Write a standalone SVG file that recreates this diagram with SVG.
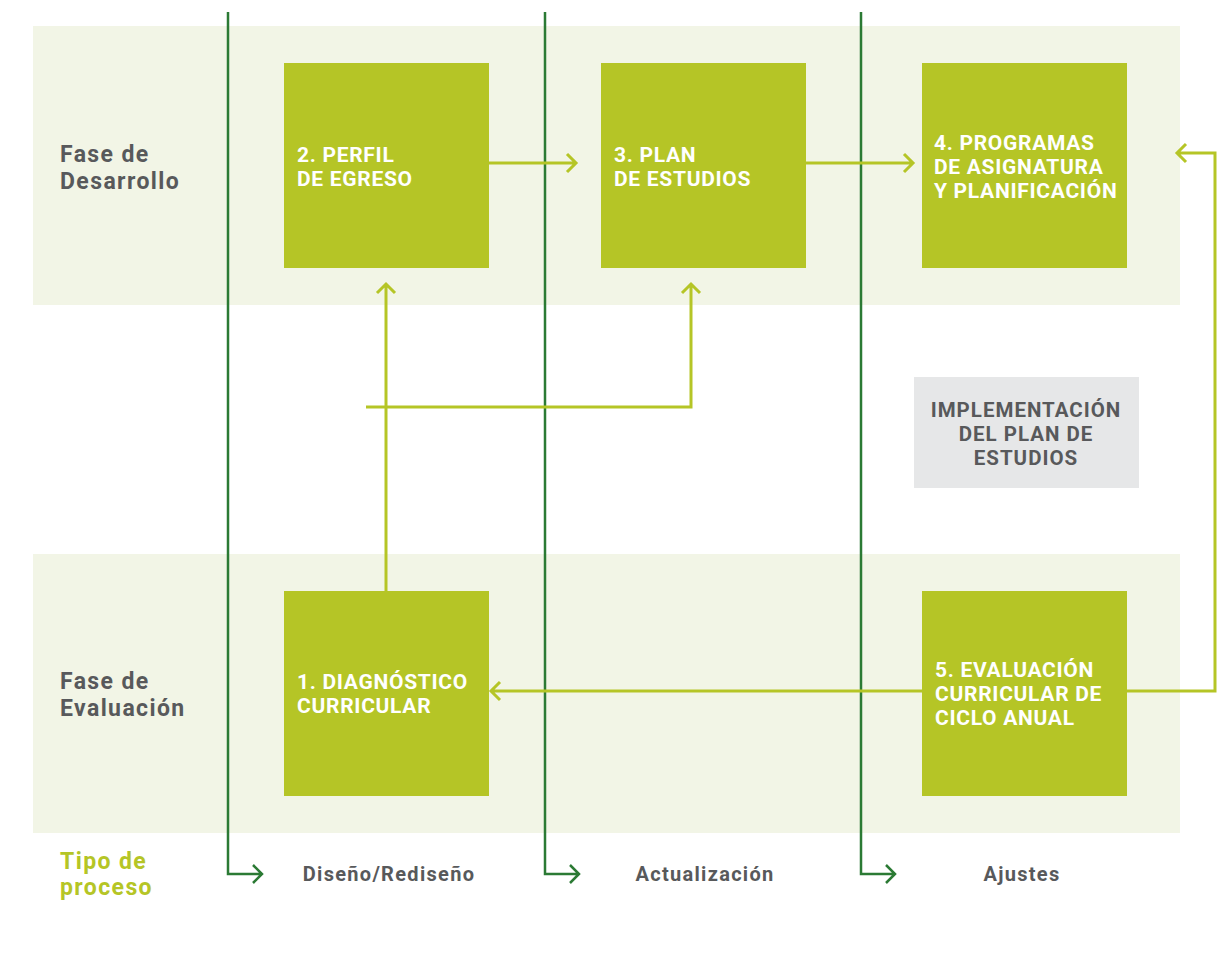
<svg xmlns="http://www.w3.org/2000/svg" width="1227" height="971" viewBox="0 0 1227 971">
<style>
.band{fill:#f2f5e6}
.box{fill:#b5c526}
.bt{font-family:Roboto,"Liberation Sans",sans-serif;font-weight:700;font-size:21px;letter-spacing:0.7px;fill:#ffffff}
.lbl{font-family:Roboto,"Liberation Sans",sans-serif;font-weight:700;font-size:23px;letter-spacing:1.4px;fill:#58595b}
.sm{font-family:Roboto,"Liberation Sans",sans-serif;font-weight:700;font-size:20px;letter-spacing:1.3px;fill:#58595b}
.gb{font-family:Roboto,"Liberation Sans",sans-serif;font-weight:700;font-size:20.5px;letter-spacing:1px;fill:#58595b}
.lime{fill:none;stroke:#b5c526;stroke-width:3}
.dk{fill:none;stroke:#2b7a34;stroke-width:2.5}
</style>
<rect width="1227" height="971" fill="#ffffff"/>
<rect class="band" x="33" y="26" width="1147" height="279"/>
<rect class="band" x="33" y="554" width="1147" height="279"/>
<g id="labels">
<text class="lbl" x="60" y="162">Fase de</text>
<text class="lbl" x="60" y="189">Desarrollo</text>
<text class="lbl" x="60" y="689">Fase de</text>
<text class="lbl" x="60" y="716">Evaluación</text>
<text class="lbl" x="60" y="869" style="fill:#b5c526">Tipo de</text>
<text class="lbl" x="60" y="895" style="fill:#b5c526">proceso</text>
<text class="sm" x="389" y="881" text-anchor="middle">Diseño/Rediseño</text>
<text class="sm" x="705" y="881" text-anchor="middle">Actualización</text>
<text class="sm" x="1022" y="881" text-anchor="middle">Ajustes</text>
</g>
<g id="connectors">
<path class="dk" d="M228 12V874H262M253 865L262 874L253 883"/>
<path class="dk" d="M545 12V874H579M570 865L579 874L570 883"/>
<path class="dk" d="M861 12V874H895M886 865L895 874L886 883"/>
<path class="lime" d="M489 163H576M567 154L576 163L567 172"/>
<path class="lime" d="M806 163H913M904 154L913 163L904 172"/>
<path class="lime" d="M1127 691H1215V153H1177M1186 144L1177 153L1186 162"/>
<path class="lime" d="M922 691H491M500 682L491 691L500 700"/>
<path class="lime" d="M386 591V284M377 293L386 284L395 293"/>
<path class="lime" d="M366 407H691V284M682 293L691 284L700 293"/>
</g>
<g id="n2"><rect class="box" x="284" y="63" width="205" height="205"/>
<text class="bt" x="297" y="162">2. PERFIL</text><text class="bt" x="297" y="186">DE EGRESO</text></g>
<g id="n3"><rect class="box" x="601" y="63" width="205" height="205"/>
<text class="bt" x="614" y="162">3. PLAN</text><text class="bt" x="614" y="186">DE ESTUDIOS</text></g>
<g id="n4"><rect class="box" x="922" y="63" width="205" height="205"/>
<text class="bt" x="934" y="150">4. PROGRAMAS</text><text class="bt" x="934" y="174">DE ASIGNATURA</text><text class="bt" x="934" y="198">Y PLANIFICACIÓN</text></g>
<g id="n1"><rect class="box" x="284" y="591" width="205" height="205"/>
<text class="bt" x="297" y="689">1. DIAGNÓSTICO</text><text class="bt" x="297" y="713">CURRICULAR</text></g>
<g id="n5"><rect class="box" x="922" y="591" width="205" height="205"/>
<text class="bt" x="935" y="677">5. EVALUACIÓN</text><text class="bt" x="935" y="701">CURRICULAR DE</text><text class="bt" x="935" y="725">CICLO ANUAL</text></g>
<g id="impl"><rect x="914" y="377" width="225" height="111" fill="#e6e7e8"/>
<text class="gb" x="1026" y="417" text-anchor="middle">IMPLEMENTACIÓN</text>
<text class="gb" x="1026" y="441" text-anchor="middle">DEL PLAN DE</text>
<text class="gb" x="1026" y="465" text-anchor="middle">ESTUDIOS</text></g>
</svg>
